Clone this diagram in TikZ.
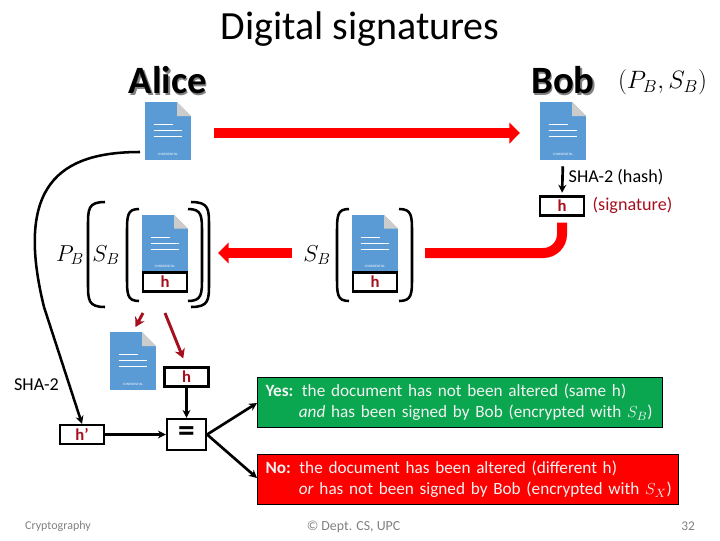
\documentclass[tikz,border=0pt]{standalone}
\usepackage{fontspec}
\setmainfont{Carlito}
\usepackage{xcolor}
\usetikzlibrary{positioning}
\usetikzlibrary{arrows.meta}
\definecolor{docblue}{HTML}{5B9BD5}
\definecolor{darkhash}{HTML}{A50F1E}
\definecolor{yesgreen}{HTML}{0BA650}
\definecolor{footgray}{HTML}{808080}
\newcommand{\fsize}[1]{\fontsize{#1}{#1}\selectfont}
\newcommand{\shadowtxt}[1]{\rlap{\kern0.9pt\raisebox{-0.9pt}{\color{gray}#1}}#1}
% end x, spine x, top y, bottom y
\newcommand{\bracketpath}[4]{
  \draw[bracketline] (#1,#3) .. controls (#2,#3) and (#2,#3+7) .. (#2,#3+24)
    -- (#2,#4-24) .. controls (#2,#4-7) and (#2,#4) .. (#1,#4);
}
\tikzset{docicon/.style = {fill=docblue, minimum width=34.5pt, minimum height=43.5pt, inner sep=0,
    path picture={
      \coordinate (nw) at (path picture bounding box.north west);
      \fill[white] ([xshift=24pt]nw) -- ([xshift=35pt]nw) -- ([xshift=35pt,yshift=-11pt]nw) -- cycle;
      \fill[gray!40] ([xshift=24pt]nw) -- ([xshift=34.5pt,yshift=-10.5pt]nw) -- ([xshift=24pt,yshift=-10.5pt]nw) -- cycle;
      \draw[white, line width=0.8pt] ([xshift=6.5pt,yshift=-17pt]nw) -- ([xshift=21pt,yshift=-17pt]nw);
      \draw[white, line width=0.8pt] ([xshift=6.5pt,yshift=-21.7pt]nw) -- ([xshift=27.5pt,yshift=-21.7pt]nw);
      \draw[white, line width=0.8pt] ([xshift=6.5pt,yshift=-26.2pt]nw) -- ([xshift=27.5pt,yshift=-26.2pt]nw);
      \node[white, inner sep=0] at ([xshift=17.2pt,yshift=-39pt]nw) {\fsize{2.5}CONFIDENTIAL};
    }}}
\tikzset{hashbox/.style = {draw, fill=white, line width=1.9pt, inner sep=0, minimum width=33pt, minimum height=14pt,
    text=darkhash, font=\fsize{12.5}\bfseries}}
\tikzset{resultbox/.style = {draw, line width=0.8pt, anchor=north west, inner sep=0, text=white!95!black,
    minimum height=37.5pt, align=left, font=\fontsize{12.9}{15.75}\selectfont}}
\tikzset{bracketline/.style = {line width=1.9pt}}
\tikzset{flow/.style = {line width=2pt, -{Stealth[length=6pt,width=6pt]}}}
\tikzset{redpipe/.style = {red, line width=7.5pt}}
\tikzset{redflow/.style = {redpipe, -{Triangle[length=8pt,width=15.5pt]}}}
\tikzset{openflow/.style = {darkhash, line width=2.2pt, -{Stealth[length=7pt,width=8pt]}}}
\tikzset{footer/.style = {text=footgray, font=\fsize{9}}}
\begin{document}
\begin{tikzpicture}[x=0.75pt, y=-0.75pt]
  \useasboundingbox (0,0) rectangle (720,540);

  \node (title) at (360,29) {\fsize{30}Digital signatures};
  \node (alice) at (168,81) {\fsize{29}\bfseries\shadowtxt{Alice}};
  \node (bob) at (563,81) {\fsize{29}\bfseries\shadowtxt{Bob}};
  \node[scale=1.09] (bobkeys) at (662.5,82) {\fsize{18}$(P_B,S_B)$};

  \node[docicon] (docA) at (168,131) {};
  \node[docicon] (docB) at (563,131) {};
  \node[docicon] (docS) at (165,243.5) {};
  \node[docicon] (docR) at (375,243.5) {};
  \node[docicon] (docV) at (133,361) {};

  \node[hashbox] (hB) at (562,206) {h};
  \node[hashbox] (hS) at (165,282) {h};
  \node[hashbox] (hR) at (375,282) {h};
  \node[hashbox] (hV) at (186.5,377) {h};
  \node[hashbox] (hA) at (82,434.5) {h’};
  \node[hashbox, text=black, minimum width=29pt, minimum height=23pt, font=\fsize{25}\bfseries] (cmp) at (186.5,434.5) {=};

  \node (hashlbl) at (616,177) {\fsize{13.6}SHA-2 (hash)};
  \node[text=darkhash] (siglbl) at (632.5,205) {\fsize{13.6}(signature)};
  \node (shalbl) at (36.5,385) {\fsize{13.6}SHA-2};

  \node (pkey) at (70,255) {\fsize{17}$P_B$};
  \node (skey) at (106,255) {\fsize{17}$S_B$};
  \node (rkey) at (317,255) {\fsize{17}$S_B$};

  \bracketpath{105}{88}{202}{307}
  \bracketpath{139}{127}{209}{301}
  \bracketpath{188}{202}{209}{301}
  \bracketpath{191}{209}{202}{307}
  \bracketpath{349}{337}{209}{301}
  \bracketpath{399}{412}{209}{301}

  \node[resultbox, fill=yesgreen, minimum width=303.75pt, text width=303.75pt] (yes) at (257,377)
    {\hspace*{6pt}\textbf{Yes:} the document has not been altered (same h)\\
     \hspace*{31pt}\textit{and} has been signed by Bob (encrypted with $S_B$)};
  \node[resultbox, fill=red, minimum width=315.75pt, text width=315.75pt] (no) at (257,453.5)
    {\hspace*{6pt}\textbf{No:} the document has been altered (different h)\\
     \hspace*{31pt}\textit{or} has not been signed by Bob (encrypted with $S_X$)};

  \coordinate (sendtail) at (214,133);
  \coordinate (sendhead) at (520,133);
  \coordinate (replyend) at (425,253);
  \coordinate (replytail) at (292,253);
  \coordinate (replyhead) at (218,253);
  \coordinate (aliceout) at (140,152);
  \coordinate (alicebend) at (44,307);
  \coordinate (opendoc) at (143,313);
  \coordinate (openhash) at (165,313);

  \draw[redflow] (sendtail) -- (sendhead);
  \draw[redpipe, rounded corners=14pt, shorten <=4.5pt] (hB.south) |- (replyend);
  \draw[redflow] (replytail) -- (replyhead);

  \draw[flow, shorten <=4.5pt, shorten >=2pt] (docB.south) -- (hB.north);
  \draw[line width=1.9pt] (aliceout) .. controls (60,152) and (14,185) .. (alicebend);
  \draw[flow, line width=1.9pt] (alicebend) -- (hA.north);
  \draw[flow] (hV) -- (cmp);
  \draw[flow] (hA) -- (cmp);
  \draw[flow] (cmp.east) -- (yes.west |- 0,403);
  \draw[flow] (cmp.east) -- (no.west |- 0,478);

  \draw[openflow, shorten >=4pt] (opendoc) -- (docV.north);
  \draw[openflow, shorten >=6.5pt] (openhash) -- (hV.north);

  \node[footer] (course) at (58,526) {Cryptography};
  \node[footer, font=\fsize{10.4}] (dept) at (353.5,527) {© Dept. CS, UPC};
  \node[footer, font=\fsize{10}] (page) at (688,526) {32};
\end{tikzpicture}
\end{document}
